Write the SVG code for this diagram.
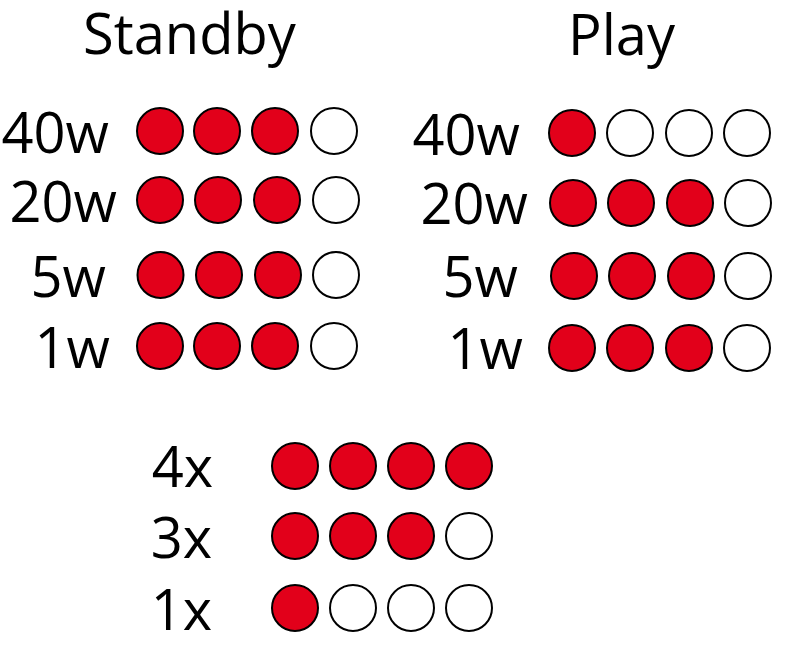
<svg xmlns="http://www.w3.org/2000/svg" width="800" height="662" viewBox="0 0 800 662">
<style>
text{font-family:"Open Sans","Noto Sans","Liberation Sans",sans-serif;fill:#000;}
.h{font-size:56px;}
.l{font-size:56px;text-anchor:end;}
.on{fill:#e2001a;stroke:#000;stroke-width:2;}
.off{fill:#fff;stroke:#000;stroke-width:2;}
</style>
<rect width="800" height="662" fill="#fff"/>
<g id="standby">
<text class="h" x="83" y="54">Standby</text>
<g id="standby-40w"><text class="l" x="109" y="153">40w</text>
<circle class="on" cx="160" cy="131" r="23"/><circle class="on" cx="217" cy="131" r="23"/><circle class="on" cx="275" cy="131" r="23"/><circle class="off" cx="334" cy="131" r="23"/></g>
<g id="standby-20w"><text class="l" x="117" y="222">20w</text>
<circle class="on" cx="160" cy="200" r="23"/><circle class="on" cx="218" cy="200" r="23"/><circle class="on" cx="277" cy="200" r="23"/><circle class="off" cx="336" cy="200" r="23"/></g>
<g id="standby-5w"><text class="l" x="106" y="297">5w</text>
<circle class="on" cx="160.5" cy="275" r="23"/><circle class="on" cx="219" cy="275" r="23"/><circle class="on" cx="278" cy="275" r="23"/><circle class="off" cx="336" cy="275" r="23"/></g>
<g id="standby-1w"><text class="l" x="110" y="368">1w</text>
<circle class="on" cx="160" cy="346" r="23"/><circle class="on" cx="217" cy="346" r="23"/><circle class="on" cx="275" cy="346" r="23"/><circle class="off" cx="334" cy="346" r="23"/></g>
</g>
<g id="play">
<text class="h" x="568" y="55">Play</text>
<g id="play-40w"><text class="l" x="520" y="155">40w</text>
<circle class="on" cx="572" cy="133" r="23"/><circle class="off" cx="630" cy="133" r="23"/><circle class="off" cx="689" cy="133" r="23"/><circle class="off" cx="747" cy="133" r="23"/></g>
<g id="play-20w"><text class="l" x="528" y="224">20w</text>
<circle class="on" cx="573" cy="203" r="23"/><circle class="on" cx="631" cy="203" r="23"/><circle class="on" cx="690" cy="203" r="23"/><circle class="off" cx="748" cy="203" r="23"/></g>
<g id="play-5w"><text class="l" x="518" y="297">5w</text>
<circle class="on" cx="574" cy="276" r="23"/><circle class="on" cx="632" cy="276" r="23"/><circle class="on" cx="691" cy="276" r="23"/><circle class="off" cx="748" cy="276" r="23"/></g>
<g id="play-1w"><text class="l" x="523" y="369">1w</text>
<circle class="on" cx="572" cy="348" r="23"/><circle class="on" cx="630" cy="348" r="23"/><circle class="on" cx="689" cy="348" r="23"/><circle class="off" cx="747" cy="348" r="23"/></g>
</g>
<g id="multiplier">
<g id="mult-4x"><text class="l" x="213" y="487">4x</text>
<circle class="on" cx="295" cy="466" r="23"/><circle class="on" cx="353" cy="466" r="23"/><circle class="on" cx="411" cy="466" r="23"/><circle class="on" cx="469" cy="466" r="23"/></g>
<g id="mult-3x"><text class="l" x="212" y="558">3x</text>
<circle class="on" cx="295" cy="536" r="23"/><circle class="on" cx="353" cy="536" r="23"/><circle class="on" cx="411" cy="536" r="23"/><circle class="off" cx="469" cy="536" r="23"/></g>
<g id="mult-1x"><text class="l" x="212" y="630">1x</text>
<circle class="on" cx="295" cy="608" r="23"/><circle class="off" cx="353" cy="608" r="23"/><circle class="off" cx="411" cy="608" r="23"/><circle class="off" cx="469" cy="608" r="23"/></g>
</g>
</svg>
